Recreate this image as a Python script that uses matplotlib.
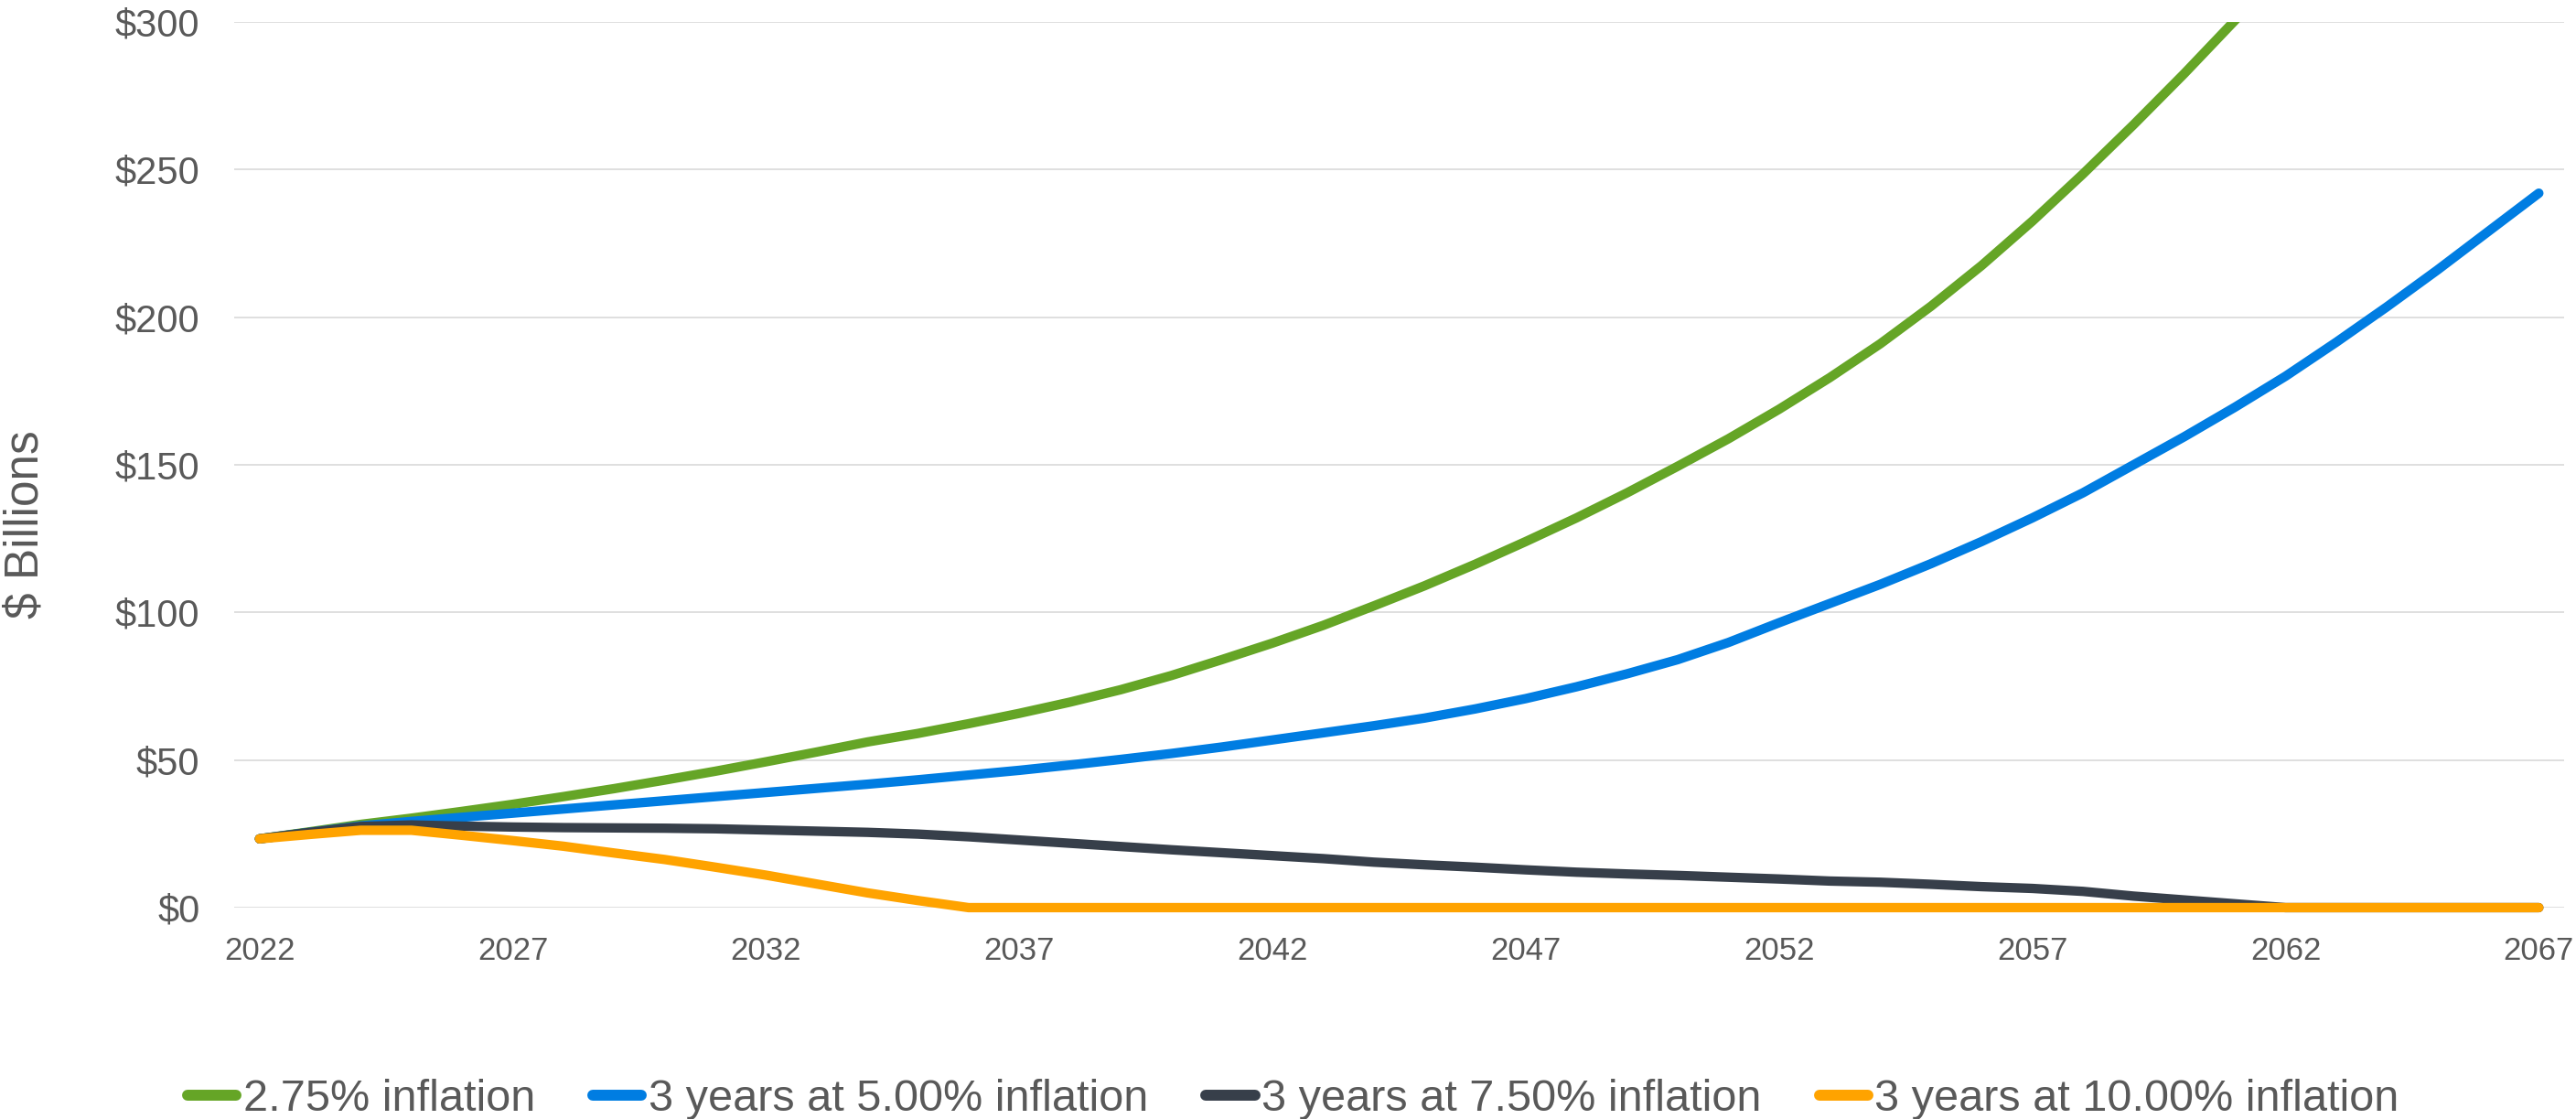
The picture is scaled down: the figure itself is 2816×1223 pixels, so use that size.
import matplotlib.pyplot as plt
from matplotlib.ticker import FuncFormatter

plt.rcParams['font.family'] = ['Liberation Sans', 'DejaVu Sans']

years = list(range(2022, 2068))
tick_years = list(range(2022, 2068, 5))

labels = ['2.75% inflation', '3 years at 5.00% inflation',
          '3 years at 7.50% inflation', '3 years at 10.00% inflation']

# $ billions (2022 .. 2067)
base = [23.3, 25.7, 28.2, 30.3, 32.6, 35.0, 37.6, 40.3, 43.2, 46.2,
        49.4, 52.7, 56.1, 59.0, 62.3, 65.8, 69.6, 73.8, 78.6, 84.0,
        89.6, 95.6, 102.2, 109.0, 116.3, 124.0, 132.0, 140.5, 149.5, 158.8,
        168.8, 179.5, 191.0, 203.7, 217.5, 232.5, 248.5, 265.2, 282.5, 300.5,
        319, 339, 360, 382, 406, 431]
infl_5 = [23.3, 25.5, 27.7, 29.2, 30.6, 32.0, 33.4, 34.8, 36.2, 37.6,
          39.0, 40.4, 41.8, 43.3, 44.9, 46.5, 48.3, 50.2, 52.2, 54.4,
          56.8, 59.2, 61.6, 64.2, 67.3, 70.8, 74.8, 79.2, 84.0, 89.8,
          96.5, 103.0, 109.5, 116.5, 124.0, 132.0, 140.5, 150.0, 159.5, 169.5,
          180.0, 191.5, 203.5, 216.0, 229.0, 242.0]
infl_75 = [23.3, 25.5, 27.5, 28.0, 27.6, 27.3, 27.1, 27.0, 26.9, 26.7,
           26.3, 25.9, 25.5, 24.9, 24.0, 22.9, 21.8, 20.7, 19.6, 18.6,
           17.6, 16.6, 15.4, 14.5, 13.7, 12.8, 12.0, 11.4, 10.9, 10.3,
           9.7, 9.0, 8.6, 7.9, 7.1, 6.5, 5.5, 3.9, 2.6, 1.3,
           0, 0, 0, 0, 0, 0]
infl_10 = [23.3, 24.8, 26.2, 26.2, 24.5, 22.7, 20.8, 18.5, 16.3, 13.7,
           11.0, 8.0, 5.0, 2.4, 0, 0, 0, 0, 0, 0,
           0, 0, 0, 0, 0, 0, 0, 0, 0, 0,
           0, 0, 0, 0, 0, 0, 0, 0, 0, 0,
           0, 0, 0, 0, 0, 0]

colors = ['#65A526', '#007DE2', '#373F4A', '#FFA300']
grey = '#595959'

fig = plt.figure(figsize=(28.16, 12.23), dpi=100)
ax = fig.add_axes([0.0909, 0.1889, 0.9045, 0.7915])

series = [base, infl_5, infl_75, infl_10]
for i, (vals, lab, c) in enumerate(zip(series, labels, colors)):
    ax.plot(years, vals, color=c, lw=7.4, label=lab,
            solid_capstyle='round', solid_joinstyle='round',
            zorder=3 + i, clip_on=(i == 0))

ax.set_xlim(2021.5, 2067.5)
ax.set_ylim(0, 300)
ax.set_yticks(range(0, 301, 50))
ax.yaxis.set_major_formatter(FuncFormatter(lambda v, p: '$%d' % v))
ax.set_xticks(tick_years)
ax.set_xticklabels([str(y) for y in tick_years])

ax.grid(axis='y', color='#D9D9D9', lw=1.2)
ax.set_axisbelow(True)
for s in ax.spines.values():
    s.set_visible(False)
ax.tick_params(axis='x', length=0, pad=22, labelsize=25, labelcolor=grey)
ax.tick_params(axis='y', length=0, pad=27, labelsize=30, labelcolor=grey)

fig.text(28 / 2816, 1 - 573 / 1223, '$ Billions', rotation=90,
         ha='center', va='center', fontsize=37, color=grey)

leg = fig.legend(loc='center', bbox_to_anchor=(0.502, 0.0175), ncol=4,
                 frameon=False, fontsize=35, handlelength=1.1,
                 handletextpad=0.15, columnspacing=1.3, borderpad=0)
for t in leg.get_texts():
    t.set_color(grey)
for h in leg.get_lines():
    h.set_linewidth(8.6)

fig.savefig('out.png', dpi=100)
